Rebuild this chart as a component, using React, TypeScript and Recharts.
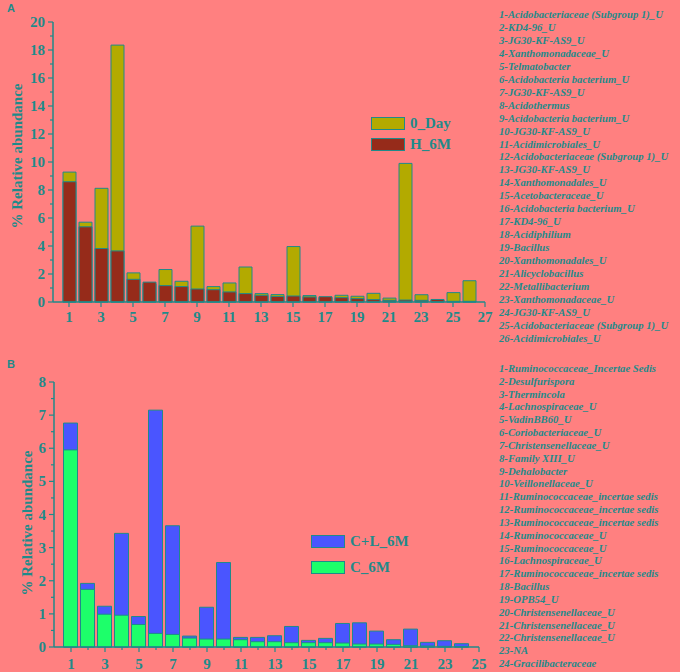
import React from "react";
import { Bar, BarChart, XAxis, YAxis } from "recharts";

// panel A
const taxaA = [1, 2, 3, 4, 5, 6, 7, 8, 9, 10, 11, 12, 13, 14, 15, 16, 17, 18, 19, 20, 21, 22, 23, 24, 25, 26];
const day0 = [9.28, 5.7, 8.12, 18.35, 2.08, 1.3, 2.32, 1.48, 5.42, 1.1, 1.36, 2.5, 0.6, 0.53, 3.96, 0.46, 0.32, 0.48, 0.41, 0.62, 0.28, 9.9, 0.52, 0.15, 0.67, 1.52];
const h6m = [8.59, 5.37, 3.82, 3.65, 1.62, 1.42, 1.17, 1.1, 0.93, 0.88, 0.72, 0.6, 0.48, 0.4, 0.43, 0.36, 0.38, 0.31, 0.24, 0.17, 0.12, 0.14, 0.12, 0.18, 0.05, 0.05];
const xTicksA = [1, 3, 5, 7, 9, 11, 13, 15, 17, 19, 21, 23, 25, 27];
const yTicksA = [0, 1, 2, 3, 4, 5, 6, 7, 8, 9, 10, 11, 12, 13, 14, 15, 16, 17, 18, 19, 20];
const namesA = [
  "1-Acidobacteriaceae (Subgroup 1)_U",
  "2-KD4-96_U",
  "3-JG30-KF-AS9_U",
  "4-Xanthomonadaceae_U",
  "5-Telmatobacter",
  "6-Acidobacteria bacterium_U",
  "7-JG30-KF-AS9_U",
  "8-Acidothermus",
  "9-Acidobacteria bacterium_U",
  "10-JG30-KF-AS9_U",
  "11-Acidimicrobiales_U",
  "12-Acidobacteriaceae (Subgroup 1)_U",
  "13-JG30-KF-AS9_U",
  "14-Xanthomonadales_U",
  "15-Acetobacteraceae_U",
  "16-Acidobacteria bacterium_U",
  "17-KD4-96_U",
  "18-Acidiphilium",
  "19-Bacillus",
  "20-Xanthomonadales_U",
  "21-Alicyclobacillus",
  "22-Metallibacterium",
  "23-Xanthomonadaceae_U",
  "24-JG30-KF-AS9_U",
  "25-Acidobacteriaceae (Subgroup 1)_U",
  "26-Acidimicrobiales_U",
];

// panel B
const taxaB = [1, 2, 3, 4, 5, 6, 7, 8, 9, 10, 11, 12, 13, 14, 15, 16, 17, 18, 19, 20, 21, 22, 23, 24];
const cl6m = [6.76, 1.92, 1.23, 3.43, 0.92, 7.15, 3.66, 0.33, 1.2, 2.55, 0.29, 0.29, 0.34, 0.62, 0.2, 0.26, 0.71, 0.73, 0.48, 0.22, 0.54, 0.14, 0.19, 0.1];
const c6m = [5.95, 1.74, 0.99, 0.96, 0.68, 0.41, 0.38, 0.27, 0.24, 0.24, 0.22, 0.16, 0.16, 0.13, 0.13, 0.13, 0.12, 0.09, 0.09, 0.08, 0.04, 0.03, 0.02, 0.01];
const xTicksB = [1, 2, 3, 4, 5, 6, 7, 8, 9, 10, 11, 12, 13, 14, 15, 16, 17, 18, 19, 20, 21, 22, 23, 24, 25];
const yTicksB = [0, 0.5, 1, 1.5, 2, 2.5, 3, 3.5, 4, 4.5, 5, 5.5, 6, 6.5, 7, 7.5, 8];
const namesB = [
  "1-Ruminococcaceae_Incertae Sedis",
  "2-Desulfurispora",
  "3-Thermincola",
  "4-Lachnospiraceae_U",
  "5-VadinBB60_U",
  "6-Coriobacteriaceae_U",
  "7-Christensenellaceae_U",
  "8-Family XIII_U",
  "9-Dehalobacter",
  "10-Veillonellaceae_U",
  "11-Ruminococcaceae_incertae sedis",
  "12-Ruminococcaceae_incertae sedis",
  "13-Ruminococcaceae_incertae sedis",
  "14-Ruminococcaceae_U",
  "15-Ruminococcaceae_U",
  "16-Lachnospiraceae_U",
  "17-Ruminococcaceae_incertae sedis",
  "18-Bacillus",
  "19-OPB54_U",
  "20-Christensenellaceae_U",
  "21-Christensenellaceae_U",
  "22-Christensenellaceae_U",
  "23-NA",
  "24-Gracilibacteraceae",
];

const dataA = taxaA.map((x, i) => ({ x, day0: day0[i], h6m: h6m[i] }));
const dataB = taxaB.map((x, i) => ({ x, cl6m: cl6m[i], c6m: c6m[i] }));

const BG = "#ff8080";
const TEAL = "#1f8a8a";
const SERIF = "'Liberation Serif', 'Times New Roman', serif";

const YTick = ({ x, y, payload, major }: any) => {
  const isMajor = major(payload.value);
  return (
    <g>
      <line x1={x - (isMajor ? 5 : 3)} x2={x} y1={y} y2={y} stroke={TEAL} strokeWidth={1.2} />
      {isMajor && (
        <text x={x - 8} y={y} dy={5} textAnchor="end" fill={TEAL} fontFamily={SERIF} fontWeight="bold" fontSize={15}>
          {payload.value}
        </text>
      )}
    </g>
  );
};

const XTick = ({ x, y, payload, major, dy }: any) => {
  const isMajor = major(payload.value);
  return (
    <g>
      <line x1={x} x2={x} y1={y} y2={y + (isMajor ? 5 : 3)} stroke={TEAL} strokeWidth={1.2} />
      {isMajor && (
        <text x={x} y={y} dy={dy} textAnchor="middle" fill={TEAL} fontFamily={SERIF} fontWeight="bold" fontSize={15}>
          {payload.value}
        </text>
      )}
    </g>
  );
};

const LegendItem = ({ color, label, top, left }: any) => (
  <div style={{ position: "absolute", left, top, display: "flex", alignItems: "center" }}>
    <div style={{ width: 34, height: 13, background: color, border: `1.5px solid ${TEAL}`, boxSizing: "border-box" }} />
    <span style={{ marginLeft: 5, color: TEAL, fontFamily: SERIF, fontWeight: "bold", fontSize: 15 }}>{label}</span>
  </div>
);

const NameList = ({ names, top, spacing }: any) => (
  <div style={{ position: "absolute", left: 499, top }}>
    {names.map((n: string, i: number) => (
      <div
        key={i}
        style={{ height: spacing, lineHeight: `${spacing}px`, color: TEAL, fontFamily: SERIF, fontStyle: "italic", fontWeight: "bold", fontSize: 10.7, whiteSpace: "nowrap" }}
      >
        {n}
      </div>
    ))}
  </div>
);

const YLabel = ({ cx, cy }: any) => (
  <div
    style={{
      position: "absolute",
      left: cx,
      top: cy,
      transform: "translate(-50%, -50%) rotate(-90deg)",
      color: TEAL,
      fontFamily: SERIF,
      fontWeight: "bold",
      fontSize: 15,
      whiteSpace: "nowrap",
    }}
  >
    % Relative abundance
  </div>
);

export default function App() {
  return (
    <div style={{ position: "absolute", left: 0, top: 0, width: 680, height: 672, background: BG, overflow: "hidden" }}>
      <div style={{ position: "absolute", left: 7, top: 2, color: TEAL, fontFamily: "'Liberation Sans', Arial, sans-serif", fontWeight: "bold", fontSize: 11 }}>A</div>
      <div style={{ position: "absolute", left: 7, top: 358, color: TEAL, fontFamily: "'Liberation Sans', Arial, sans-serif", fontWeight: "bold", fontSize: 11 }}>B</div>

      <div style={{ position: "absolute", left: 0, top: 0 }}>
        <BarChart width={500} height={330} data={dataA} margin={{ top: 22, right: 15, bottom: 0, left: 0 }} barGap={-13}>
          <XAxis
            type="number"
            dataKey="x"
            domain={[0, 27]}
            ticks={xTicksA}
            interval={0}
            height={28}
            tickSize={0}
            tickMargin={0}
            tickLine={false}
            axisLine={{ stroke: TEAL, strokeWidth: 1.5 }}
            tick={<XTick major={() => true} dy={20} />}
          />
          <YAxis
            type="number"
            domain={[0, 20]}
            ticks={yTicksA}
            interval={0}
            width={53}
            tickSize={0}
            tickMargin={0}
            tickLine={false}
            axisLine={{ stroke: TEAL, strokeWidth: 1.5 }}
            tick={<YTick major={(v: number) => v % 2 === 0} />}
          />
          <Bar dataKey="day0" fill="#b3aa00" stroke={TEAL} strokeWidth={1} barSize={13} isAnimationActive={false} />
          <Bar dataKey="h6m" fill="#962b1a" stroke={TEAL} strokeWidth={1} barSize={13} isAnimationActive={false} />
        </BarChart>
      </div>
      <YLabel cx={17} cy={156} />
      <LegendItem color="#b3aa00" label="0_Day" top={115} left={371} />
      <LegendItem color="#962b1a" label="H_6M" top={136} left={371} />
      <NameList names={namesA} top={8} spacing={12.96} />

      <div style={{ position: "absolute", left: 0, top: 350 }}>
        <BarChart width={494} height={322} data={dataB} margin={{ top: 32, right: 15, bottom: 0, left: 0 }} barGap={-14}>
          <XAxis
            type="number"
            dataKey="x"
            domain={[0, 25]}
            ticks={xTicksB}
            interval={0}
            height={25}
            tickSize={0}
            tickMargin={0}
            tickLine={false}
            axisLine={{ stroke: TEAL, strokeWidth: 1.5 }}
            tick={<XTick major={(v: number) => v % 2 === 1} dy={22} />}
          />
          <YAxis
            type="number"
            domain={[0, 8]}
            ticks={yTicksB}
            interval={0}
            width={54}
            tickSize={0}
            tickMargin={0}
            tickLine={false}
            axisLine={{ stroke: TEAL, strokeWidth: 1.5 }}
            tick={<YTick major={(v: number) => Number.isInteger(v)} />}
          />
          <Bar dataKey="cl6m" fill="#4a55ff" stroke={TEAL} strokeWidth={1} barSize={14} isAnimationActive={false} />
          <Bar dataKey="c6m" fill="#1dff6a" stroke={TEAL} strokeWidth={1} barSize={14} isAnimationActive={false} />
        </BarChart>
      </div>
      <YLabel cx={27} cy={523} />
      <LegendItem color="#4a55ff" label="C+L_6M" top={533} left={311} />
      <LegendItem color="#1dff6a" label="C_6M" top={559} left={311} />
      <NameList names={namesB} top={362} spacing={12.83} />
    </div>
  );
}
